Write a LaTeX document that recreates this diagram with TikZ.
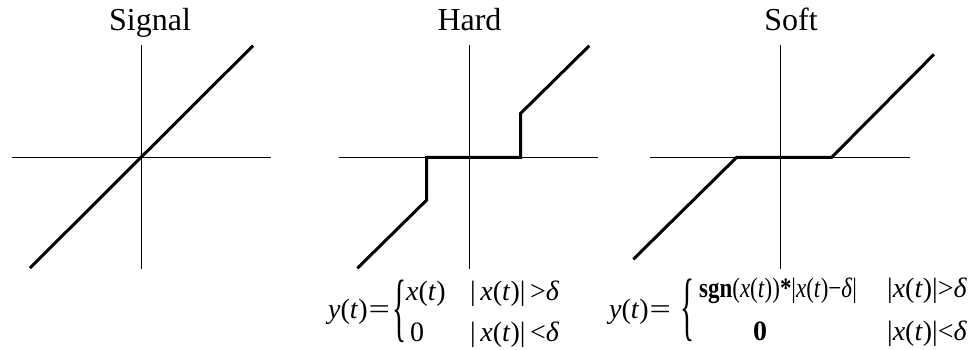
\documentclass[tikz,border=0pt]{standalone}
\usepackage{fontspec}
\setmainfont{Liberation Serif}
\newcommand\itx[1]{\textit{#1}}
\newcommand\bigeq{\kern1pt\scalebox{1.35}[1]{=}}
\begin{document}
\begin{tikzpicture}[x=1pt,y=-1pt,
  axis/.style={line width=1.2pt},
  curve/.style={line width=3pt,line join=miter},
  ttl/.style={anchor=base,inner sep=0pt,font=\fontsize{32}{36}\selectfont},
  eq/.style={anchor=base west,inner sep=0pt,font=\fontsize{28}{32}\selectfont},
  bracenode/.style={inner sep=0pt,font=\fontsize{28}{28}\selectfont}]
\useasboundingbox (0,0) rectangle (972,349);
% titles
\node[ttl] (t1) at (150,30) {Signal};
\node[ttl] (t2) at (469.5,30) {Hard};
\node[ttl] (t3) at (791,30) {Soft};
% Signal panel
\draw[axis] (141.7,45) -- (141.7,269);
\draw[axis] (11.7,157.3) -- (271,157.3);
\draw[curve] (30,268) -- (253,45.7);
% Hard panel
\draw[axis] (469.3,45) -- (469.3,269);
\draw[axis] (339.3,157.3) -- (598.3,157.3);
\draw[curve] (357.3,268.3) -- (426.7,200) -- (426.7,157.3) -- (520.7,157.3) -- (520.7,113.3) -- (589.3,45.7);
% Soft panel
\draw[axis] (780.3,45) -- (780.3,269);
\draw[axis] (650,157.3) -- (910,157.3);
\draw[curve] (633.3,259.3) -- (736.7,157.3) -- (831.7,157.3) -- (934,54.3);
% Hard equation
\node[eq] (hy) at (328,318) {\itx{y}(\itx{t})\bigeq};
\node[bracenode] (hb) at (400,311) {\scalebox{1.05}[2.7]{\{}};
\node[eq] (h11) at (406,300) {\itx{x}(\itx{t})};
\node[eq] (h12) at (470,300) {|\,\itx{x}(\itx{t})|\,>\itx{δ}};
\node[eq] (h21) at (410,341.5) {0};
\node[eq] (h22) at (470,341.5) {|\,\itx{x}(\itx{t})|\,<\itx{δ}};
% Soft equation
\node[eq] (sy) at (609,318) {\itx{y}(\itx{t})\bigeq};
\node[bracenode] (sb) at (688,310) {\scalebox{1.05}[2.7]{\{}};
\node[eq] (s11) at (699,297) {\scalebox{0.82}[1]{\textbf{sgn}(\itx{x}(\itx{t}))\textbf{*}|\itx{x}(\itx{t})−\itx{δ}|}};
\node[eq,anchor=base] (s21) at (760,340) {\textbf{0}};
\node[eq] (s12) at (887,297) {|\itx{x}(\itx{t})|>\itx{δ}};
\node[eq] (s22) at (887,340) {|\itx{x}(\itx{t})|<\itx{δ}};
\end{tikzpicture}
\end{document}
